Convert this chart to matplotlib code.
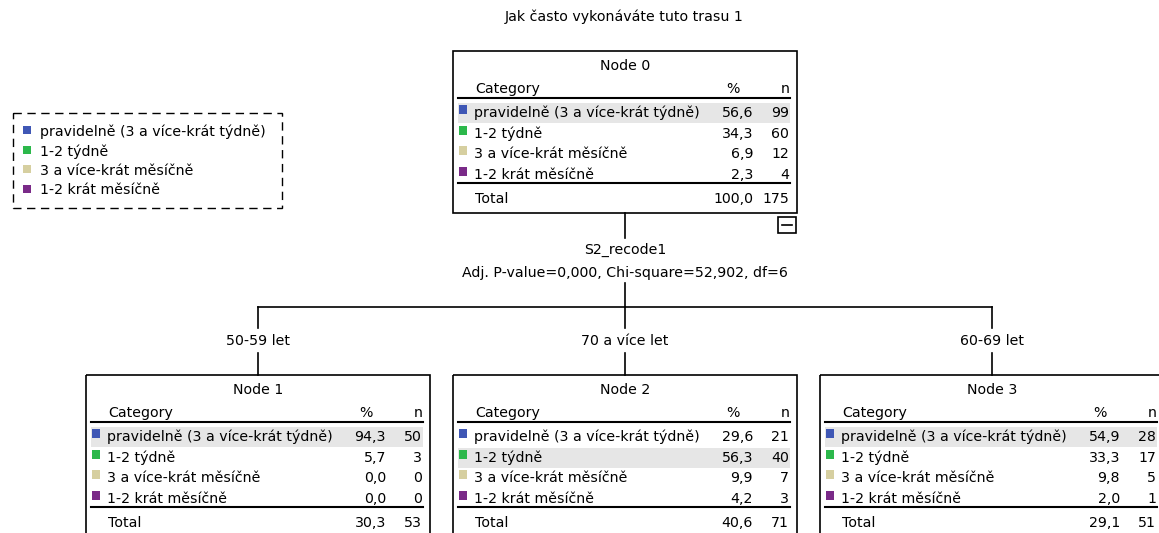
"""SPSS-style CHAID tree: Jak často vykonáváte tuto trasu 1."""

import matplotlib.pyplot as plt
from matplotlib.patches import Rectangle

plt.rcParams.update({"font.family": "DejaVu Sans", "font.size": 10.2})

# Data
title = "Jak často vykonáváte tuto trasu 1"
categories = ["pravidelně (3 a více-krát týdně)", "1-2 týdně",
              "3 a více-krát měsíčně", "1-2 krát měsíčně"]
cat_colors = ["#3F57B5", "#2CB84B", "#D6CFA0", "#7A2A88"]

node_names = ["Node 0", "Node 1", "Node 2", "Node 3"]
node_pct = [[56.6, 34.3, 6.9, 2.3],
            [94.3, 5.7, 0.0, 0.0],
            [29.6, 56.3, 9.9, 4.2],
            [54.9, 33.3, 9.8, 2.0]]
node_n = [[99, 60, 12, 4],
          [50, 3, 0, 0],
          [21, 40, 7, 3],
          [28, 17, 5, 1]]
node_total_pct = [100.0, 30.3, 40.6, 29.1]
node_total_n = [175, 53, 71, 51]

split_var = "S2_recode1"
split_stats = "Adj. P-value=0,000, Chi-square=52,902, df=6"
branch_labels = ["50-59 let", "70 a více let", "60-69 let"]

# layout in pixels
W, H = 1159, 533
BOX_W = 344
root_pos = (453, 51)
child_pos = [(86, 375), (453, 375), (820, 375)]


def fmt(v):
    return f"{v:.1f}".replace(".", ",")


def draw_node(ax, left, top, name, pcts, ns, tot_pct, tot_n):
    ax.add_patch(Rectangle((left, top), BOX_W, 162, fill=False,
                           edgecolor="black", linewidth=1.2))
    cx = left + BOX_W / 2
    ax.text(cx, top + 15, name, ha="center", va="center")
    ax.text(left + 22, top + 38, "Category", ha="left", va="center")
    ax.text(left + 280, top + 38, "%", ha="center", va="center")
    ax.text(left + 337, top + 38, "n", ha="right", va="center")
    ax.plot([left + 5, left + 337], [top + 47, top + 47], color="black", lw=1.5)
    best = max(range(len(ns)), key=lambda i: ns[i])
    row_y = [top + 62, top + 83, top + 103, top + 124]
    for i, y in enumerate(row_y):
        if i == best:
            ax.add_patch(Rectangle((left + 5, y - 10), 332, 20,
                                   facecolor="#E6E6E6", edgecolor="none"))
        ax.add_patch(Rectangle((left + 6, y - 8), 8, 9,
                               facecolor=cat_colors[i], edgecolor="none"))
        ax.text(left + 21, y, categories[i], ha="left", va="center")
        ax.text(left + 300, y, fmt(pcts[i]), ha="right", va="center")
        ax.text(left + 336, y, str(ns[i]), ha="right", va="center")
    ax.plot([left + 5, left + 337], [top + 132, top + 132], color="black", lw=1.5)
    ax.text(left + 22, top + 148, "Total", ha="left", va="center")
    ax.text(left + 300, top + 148, fmt(tot_pct), ha="right", va="center")
    ax.text(left + 336, top + 148, str(tot_n), ha="right", va="center")


fig = plt.figure(figsize=(W / 100, H / 100), dpi=100)
ax = fig.add_axes([0, 0, 1, 1])
ax.set_xlim(0, W)
ax.set_ylim(H, 0)
ax.axis("off")

ax.text(624, 17, title, ha="center", va="center")

# legend
ax.add_patch(Rectangle((13, 113), 269, 95, fill=False, edgecolor="black",
                       linestyle=(0, (6, 4)), linewidth=1))
for i, cat in enumerate(categories):
    y = 132 + i * 19.5
    ax.add_patch(Rectangle((23, y - 6), 8, 8, facecolor=cat_colors[i],
                           edgecolor="none"))
    ax.text(40, y, cat, ha="left", va="center")

# root node
draw_node(ax, root_pos[0], root_pos[1], node_names[0], node_pct[0], node_n[0],
          node_total_pct[0], node_total_n[0])
# collapse box
ax.add_patch(Rectangle((778, 217), 18, 16, fill=False, edgecolor="black", lw=1.2))
ax.plot([782, 792], [225, 225], color="black", lw=1.2)

# connectors
rx = root_pos[0] + BOX_W / 2
ax.plot([rx, rx], [213, 238], color="black", lw=1.2)
ax.text(rx, 250, split_var, ha="center", va="center")
ax.text(rx, 273, split_stats, ha="center", va="center")
centers = [p[0] + BOX_W / 2 for p in child_pos]
ax.plot([rx, rx], [283, 307], color="black", lw=1.2)
ax.plot([centers[0], centers[-1]], [307, 307], color="black", lw=1.2)
for k, (cx, lab) in enumerate(zip(centers, branch_labels)):
    ax.plot([cx, cx], [307, 328], color="black", lw=1.2)
    ax.text(cx, 341, lab, ha="center", va="center")
    ax.plot([cx, cx], [353, 375], color="black", lw=1.2)
    draw_node(ax, child_pos[k][0], child_pos[k][1], node_names[k + 1],
              node_pct[k + 1], node_n[k + 1], node_total_pct[k + 1],
              node_total_n[k + 1])

fig.savefig("out.png", dpi=100)
